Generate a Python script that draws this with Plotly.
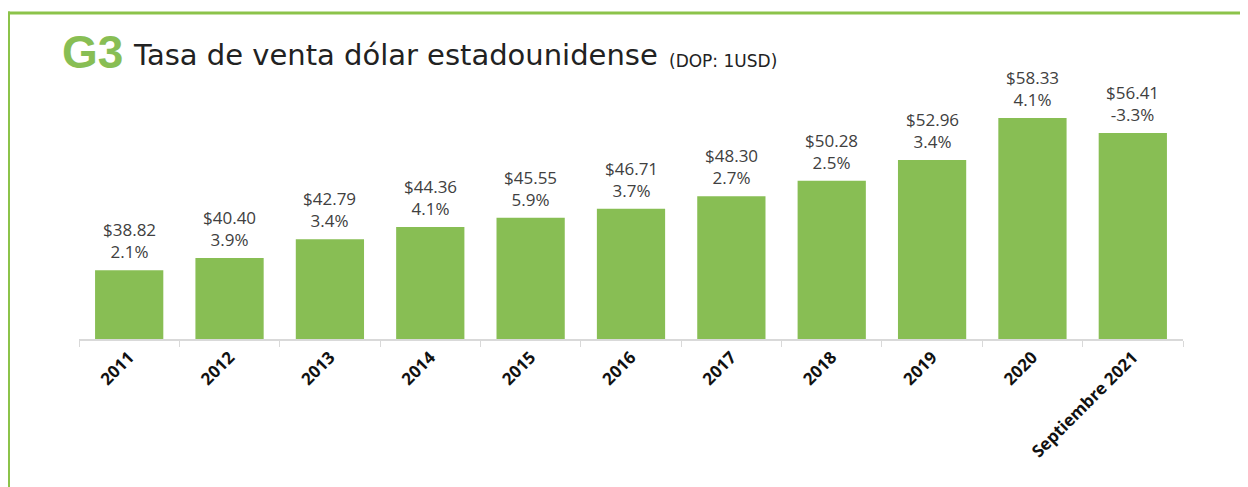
import plotly.graph_objects as go

categories = ["2011", "2012", "2013", "2014", "2015", "2016", "2017", "2018", "2019", "2020", "Septiembre 2021"]
rates = [38.82, 40.40, 42.79, 44.36, 45.55, 46.71, 48.30, 50.28, 52.96, 58.33, 56.41]
changes = ["2.1%", "3.9%", "3.4%", "4.1%", "5.9%", "3.7%", "2.7%", "2.5%", "3.4%", "4.1%", "-3.3%"]

OFF = 8  # page body margin
W, H = 1248, 487
# desired page-pixel positions
plot_left, plot_right, plot_top, plot_bottom = 79, 1183, 27, 339
L = plot_left - OFF
R = W - (plot_right - OFF)
T = plot_top - OFF
B = H - (plot_bottom - OFF)
GREEN = "#88BE54"
BORDER = "#8CC34A"

fig = go.Figure()
fig.add_trace(go.Bar(x=categories, y=rates, marker=dict(color=GREEN, line=dict(width=0)),
                     hoverinfo="skip"))

annotations = []
for i, (v, p) in enumerate(zip(rates, changes)):
    annotations.append(dict(x=i, y=v, xref="x", yref="y", text=f"${v:.2f}<br>{p}",
                            showarrow=False, yanchor="bottom", yshift=5,
                            font=dict(family="Open Sans", size=17, color="#404040")))

def tx(page_x):
    return page_x - plot_left
def ty(page_y):
    return plot_top - page_y

annotations += [
    dict(xref="paper", yref="paper", x=0, y=1, xshift=tx(60), yshift=ty(52), xanchor="left", yanchor="middle",
         text="<b>G3</b>", showarrow=False,
         font=dict(family="Liberation Sans", size=46, color=GREEN)),
    dict(xref="paper", yref="paper", x=0, y=1, xshift=tx(131), yshift=ty(55), xanchor="left", yanchor="middle",
         text="Tasa de venta dólar estadounidense", showarrow=False,
         font=dict(family="DejaVu Sans", size=29, color="#222222")),
    dict(xref="paper", yref="paper", x=0, y=1, xshift=tx(667), yshift=ty(61), xanchor="left", yanchor="middle",
         text="(DOP: 1USD)", showarrow=False,
         font=dict(family="DejaVu Sans", size=17, color="#222222")),
]

pw, ph = plot_right - plot_left, plot_bottom - plot_top
def px_x(p):
    return (p - plot_left) / pw
def px_y(p):
    return (plot_bottom - p) / ph

shapes = [
    dict(type="line", xref="paper", yref="paper", x0=px_x(7), x1=px_x(W + 20), y0=px_y(13), y1=px_y(13),
         line=dict(color=BORDER, width=3)),
    dict(type="line", xref="paper", yref="paper", x0=px_x(8.5), x1=px_x(8.5), y0=px_y(11.5), y1=px_y(H + 20),
         line=dict(color=BORDER, width=3)),
]

fig.update_layout(
    width=W, height=H,
    margin=dict(l=L, r=R, t=T, b=B, autoexpand=False),
    paper_bgcolor="white", plot_bgcolor="white",
    bargap=0.32, showlegend=False,
    annotations=annotations, shapes=shapes,
    xaxis=dict(type="category", range=[-0.5, len(categories) - 0.5], tickangle=-45,
               showline=True, linecolor="#D9D9D9", linewidth=1.5,
               ticks="outside", tickson="boundaries", ticklen=6, tickcolor="#D9D9D9",
               tickfont=dict(family="Open Sans", size=17, color="#111111", weight="bold"),
               showgrid=False),
    yaxis=dict(range=[30, 70], visible=False, showgrid=False, zeroline=False),
)

fig.write_html("out.html")
